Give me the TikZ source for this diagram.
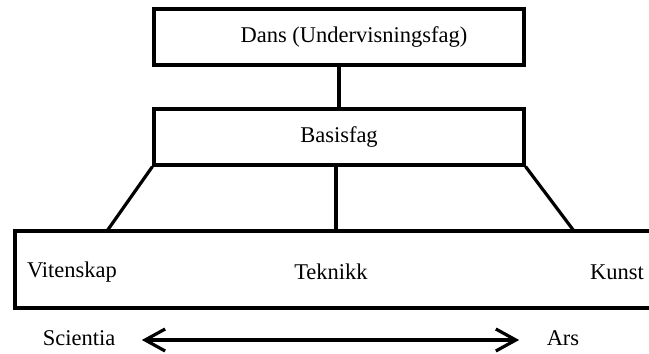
\documentclass[tikz,border=0pt]{standalone}
\usepackage{fontspec}
\setmainfont{Liberation Serif}
\usetikzlibrary{arrows.meta}
\tikzset{
  fagbox/.style={draw, line width=3.2pt, rectangle, minimum width=370pt, minimum height=56pt, inner sep=0pt},
  fagtext/.style={font=\fontsize{22.5}{26}\selectfont, inner sep=0pt},
}
\begin{document}
\begin{tikzpicture}[x=1pt, y=-1pt, line width=3.2pt]
  \useasboundingbox (0,0) rectangle (649,354);
  \node[fagbox, label={[fagtext, xshift=15pt]center:Dans (Undervisningsfag)}] (dans) at (339,37) {};
  \node[fagbox, fagtext] (basis) at (339,137) {Basisfag};
  \node[draw, line width=3.2pt, minimum width=645pt, minimum height=77pt, inner sep=0pt] (felt) at (337.5,269.5) {};
  \coordinate (vl) at (107,231); \coordinate (vm) at (336,231); \coordinate (vr) at (574,231);
  \draw (dans.south) -- (basis.north);
  \draw (basis.south west) -- (vl); \draw (basis.south -| vm) -- (vm); \draw (basis.south east) -- (vr);
  \foreach \n/\x/\t in {viten/72/Vitenskap, teknikk/331/Teknikk, kunst/617/Kunst}
    \node[fagtext] (\n) at (\x,272) {\t};
  \node[fagtext] (sci) at (79,338) {Scientia};
  \node[fagtext] (ars) at (563,338) {Ars};
  \draw[{Straight Barb[length=20pt,width=22pt]}-{Straight Barb[length=20pt,width=22pt]}, shorten <=25pt, shorten >=26pt]
    (sci.east |- 0,340) -- (ars.west |- 0,340);
\end{tikzpicture}
\end{document}
